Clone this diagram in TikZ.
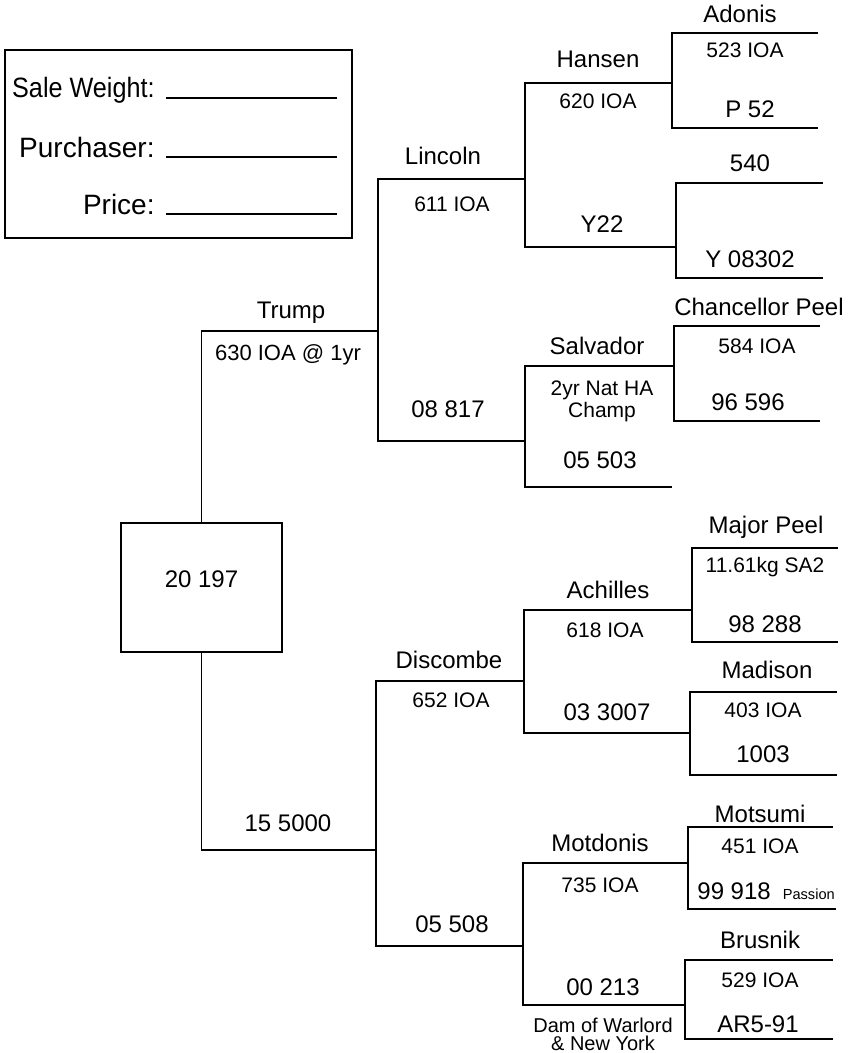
\documentclass[tikz,border=0pt]{standalone}
\usepackage{fontspec}
\usepackage{graphicx}
\setmainfont{Liberation Sans}
\usetikzlibrary{positioning}

\begin{document}
\begin{tikzpicture}[x=0.5pt,y=-0.5pt,
horse/.style={font=\fontsize{12}{14}\selectfont,anchor=base,inner sep=0pt},
info/.style={font=\fontsize{10.5}{12}\selectfont,anchor=base,inner sep=0pt,align=center},
field/.style={font=\fontsize{14}{16}\selectfont,anchor=base east,inner sep=0pt},
link/.style={line width=.9pt},
frame/.style={draw,line width=1.2pt}]
\useasboundingbox (0,0) rectangle (852,1053);
% sale form
\draw[frame] (5,50) rectangle (352,238);
\node[field](weight) at (155,98){\scalebox{.9}[1]{Sale Weight:}};
\node[field](buyer) at (155,158){Purchaser:};
\node[field](price) at (155,215){Price:};
\draw[link](166,98)--(337,98);\draw[link](166,157)--(337,157);\draw[link](166,214)--(337,214);
% the calf
\node[frame,minimum width=80.5pt,minimum height=64.5pt,inner sep=0pt,font=\fontsize{12}{14}\selectfont,
  text height=9pt,text depth=9pt](calf) at (201.5,587.5){20 197};
% line ends: name/left/right/y
\foreach \n/\a/\b/\y in {trump/201.5/378/331, dam/201.5/376/850,
  lincoln/378/525/179, sire2/378/525/441, discombe/376/524/681, dam2/376/523/946,
  hansen/525/672/83, yard/525/676/247, salvador/525/674/366, dam3/525/672/487,
  achilles/524/692/610, dam4/524/690/733, motdonis/523/688/863, dam5/523/685/1005,
  adonis/672/818/33, dam6/672/818/128, gsire/676/823/183, dam7/676/823/278,
  peel/674/820/326, dam8/674/820/421, major/692/838/548, dam9/692/838/642,
  madison/690/837/692, dam10/690/837/775, motsumi/688/833/827, dam11/688/836/909,
  brusnik/685/833/960, dam12/685/833/1039}
  {\coordinate(\n-l) at (\a,\y);\coordinate(\n-r) at (\b,\y);}
% brackets
\draw[link](trump-r)--(trump-l)--(calf.north);\draw[link](calf.south)--(dam-l)--(dam-r);
\draw[link](lincoln-r)--(lincoln-l)--(sire2-l)--(sire2-r);
\draw[link](discombe-r)--(discombe-l)--(dam2-l)--(dam2-r);
\draw[link](hansen-r)--(hansen-l)--(yard-l)--(yard-r);
\draw[link](salvador-r)--(salvador-l)--(dam3-l)--(dam3-r);
\draw[link](achilles-r)--(achilles-l)--(dam4-l)--(dam4-r);
\draw[link](motdonis-r)--(motdonis-l)--(dam5-l)--(dam5-r);
\draw[link](adonis-r)--(adonis-l)--(dam6-l)--(dam6-r);
\draw[link](gsire-r)--(gsire-l)--(dam7-l)--(dam7-r);
\draw[link](peel-r)--(peel-l)--(dam8-l)--(dam8-r);
\draw[link](major-r)--(major-l)--(dam9-l)--(dam9-r);
\draw[link](madison-r)--(madison-l)--(dam10-l)--(dam10-r);
\draw[link](motsumi-r)--(motsumi-l)--(dam11-l)--(dam11-r);
\draw[link](brusnik-r)--(brusnik-l)--(dam12-l)--(dam12-r);
% sires' side
\node[horse](tTrump) at (291,319){Trump};
\node[info,font=\fontsize{11}{13}\selectfont](iTrump) at (288,360){630 IOA @ 1yr};
\node[horse](tLincoln) at (443,165){Lincoln};\node[info](iLincoln) at (452,212){611 IOA};
\node[horse](tSire2) at (448,417){08 817};
\node[horse](tHansen) at (598,68){Hansen};\node[info](iHansen) at (598,109){620 IOA};
\node[horse](tYard) at (602,233){Y22};
\node[horse](tSalvador) at (597,354){Salvador};
\node[info,anchor=north,font=\fontsize{10.5}{11}\selectfont](iSalvador) at (602,380){2yr Nat HA\\Champ};
\node[horse](tDam3) at (600,468){05 503};
\node[horse](tAdonis) at (740,23){Adonis};\node[info](iAdonis) at (745,58){523 IOA};
\node[horse](tDam6) at (750,118){P 52};
\node[horse](tGsire) at (750,172){540};\node[horse](tDam7) at (750,268){Y 08302};
\node[horse](tPeel) at (759,315){Chancellor Peel};\node[info](iPeel) at (757,353){584 IOA};
\node[horse](tDam8) at (748,410){96 596};
% dams' side
\node[horse](tDam) at (288,831){15 5000};
\node[horse](tDiscombe) at (449,668){Discombe};\node[info](iDiscombe) at (451,707){652 IOA};
\node[horse](tDam2) at (452,932){05 508};
\node[horse](tAchilles) at (608,598){Achilles};\node[info](iAchilles) at (605,637){618 IOA};
\node[horse](tDam4) at (607,720){03 3007};
\node[horse](tMotdonis) at (600,851){Motdonis};\node[info](iMotdonis) at (600,892){735 IOA};
\node[horse](tDam5) at (603,995){00 213};
\node[info,anchor=north,font=\fontsize{10}{9}\selectfont](iDam5) at (603,1018){Dam of Warlord\\\& New York};
\node[horse](tMajor) at (766,533){Major Peel};\node[info](iMajor) at (765,572){11.61kg SA2};
\node[horse](tDam9) at (765,632){98 288};
\node[horse](tMadison) at (767,678){Madison};\node[info](iMadison) at (763,717){403 IOA};
\node[horse](tDam10) at (763,762){1003};
\node[horse](tMotsumi) at (760,822){Motsumi};\node[info](iMotsumi) at (760,853){451 IOA};
\node[horse,anchor=base west](tDam11) at (697,899){99 918\hspace{6pt}{\fontsize{7.3}{8}\selectfont Passion}};
\node[horse](tBrusnik) at (760,948){Brusnik};\node[info](iBrusnik) at (760,987){529 IOA};
\node[horse](tDam12) at (758,1032){AR5-91};
\end{tikzpicture}
\end{document}
